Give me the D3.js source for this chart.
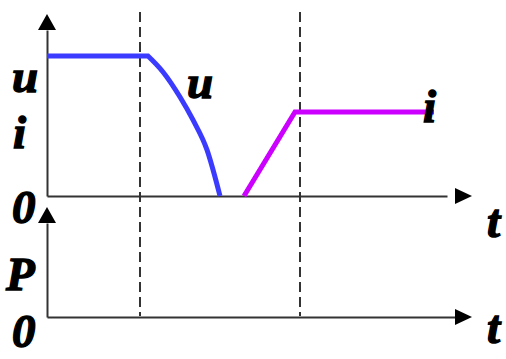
<!DOCTYPE html>
<html>
<head>
<meta charset="utf-8">
<script src="https://cdn.jsdelivr.net/npm/d3@7"></script>
<style>
  body { margin: 0; background: #fff; }
</style>
</head>
<body>
<script>
// time in arbitrary units, value normalised to top of u
const uT = [0, 25.25, 29, 33.25, 36.5, 40, 43.25];
const uV = [1, 1, 0.886, 0.707, 0.543, 0.329, 0];
const iT = [49.25, 62, 96.75];
const iV = [0, 0.6, 0.6];
const markers = [23.25, 63.25];

const svg = d3.select("body").append("svg")
    .attr("width", 506)
    .attr("height", 359);

const x = d3.scaleLinear().domain([0, 100]).range([47, 447]);
const y = d3.scaleLinear().domain([0, 1]).range([196, 56]);
const xP = d3.scaleLinear().domain([0, 102]).range([47, 455]);
const yP = d3.scaleLinear().domain([0, 1]).range([317, 223]);
const yTop = d3.scaleLinear().domain([0, 1.19]).range([196, 30]);

function arrowUp(g, cx, tip) {
    g.append("path").attr("d", `M${cx},${tip}L${cx - 9},${tip + 16}L${cx + 9},${tip + 16}Z`).attr("fill", "#000");
}
function arrowRight(g, x0, cy) {
    g.append("path").attr("d", `M${x0},${cy - 8}L${x0 + 17},${cy}L${x0},${cy + 8}Z`).attr("fill", "#000");
}

// dashed markers
svg.append("g")
    .selectAll("line")
    .data(markers)
    .enter()
    .append("line")
    .attr("x1", d => x(d)).attr("x2", d => x(d))
    .attr("y1", 12).attr("y2", 316)
    .attr("stroke", "#000")
    .attr("stroke-width", 1.6)
    .attr("stroke-dasharray", "10,5");

// axes
const axisStyle = g => {
    g.selectAll(".domain").attr("stroke", "#333").attr("stroke-width", 2);
};
svg.append("g").attr("transform", "translate(0,196)")
    .call(d3.axisBottom(x).tickValues([]).tickSizeOuter(0)).call(axisStyle);
svg.append("g").attr("transform", "translate(47,0)")
    .call(d3.axisLeft(yTop).tickValues([]).tickSizeOuter(0)).call(axisStyle);
svg.append("g").attr("transform", "translate(0,317)")
    .call(d3.axisBottom(xP).tickValues([]).tickSizeOuter(0)).call(axisStyle);
svg.append("g").attr("transform", "translate(47,0)")
    .call(d3.axisLeft(yP).tickValues([]).tickSizeOuter(0)).call(axisStyle);

arrowUp(svg, 47, 14);
arrowUp(svg, 47, 207);
arrowRight(svg, 455, 196);
arrowRight(svg, 455, 317);

const line = d3.line().x(d => x(d[0])).y(d => y(d[1]));
const smooth = d3.line().x(d => x(d[0])).y(d => y(d[1])).curve(d3.curveMonotoneX);
const uPts = d3.zip(uT, uV);

// flat part then the smooth drop
svg.append("path")
    .attr("d", line(uPts.slice(0, 2)) + smooth(uPts.slice(1)).replace(/^M/, "L"))
    .attr("fill", "none")
    .attr("stroke", "#3b3bff")
    .attr("stroke-width", 5);

svg.append("path")
    .attr("d", line(d3.zip(iT, iV)))
    .attr("fill", "none")
    .attr("stroke", "#cc00ff")
    .attr("stroke-width", 5);

const labels = [
    { t: "u", x: 12, y: 92 },
    { t: "i", x: 13, y: 148 },
    { t: "0", x: 12, y: 223 },
    { t: "P", x: 6, y: 290 },
    { t: "0", x: 12, y: 347 },
    { t: "t", x: 487, y: 237 },
    { t: "t", x: 487, y: 343 },
    { t: "u", x: 187, y: 98 },
    { t: "i", x: 423, y: 122 }
];
svg.selectAll("text.lbl")
    .data(labels)
    .enter()
    .append("text")
    .attr("class", "lbl")
    .attr("x", d => d.x)
    .attr("y", d => d.y)
    .attr("font-family", "'Liberation Serif', serif")
    .attr("font-weight", "bold")
    .attr("font-style", "italic")
    .attr("font-size", 47)
    .attr("fill", "#000")
    .attr("stroke", "#000")
    .attr("stroke-width", 1.4)
    .text(d => d.t);
</script>
</body>
</html>
